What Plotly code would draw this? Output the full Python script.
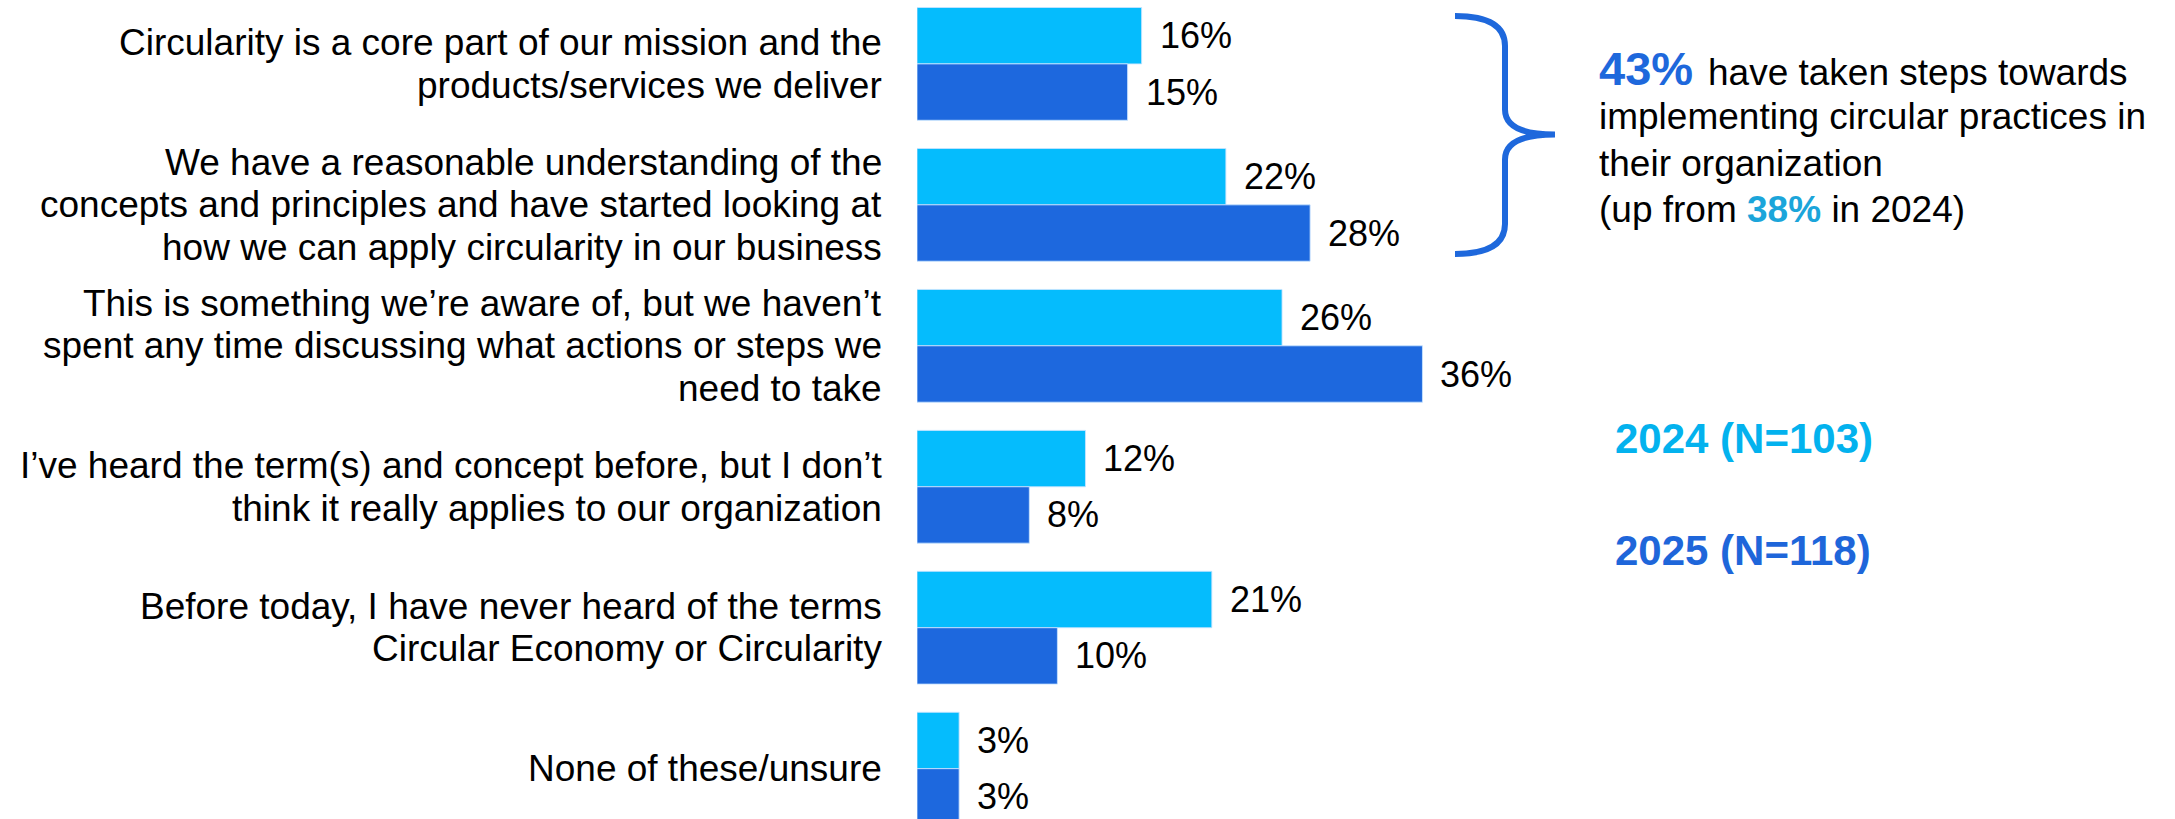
import plotly.graph_objects as go

# Survey answers (top to bottom), line breaks as drawn
categories = [
    "Circularity is a core part of our mission and the<br>products/services we deliver",
    "We have a reasonable understanding of the<br>concepts and principles and have started looking at<br>how we can apply circularity in our business",
    "This is something we’re aware of, but we haven’t<br>spent any time discussing what actions or steps we<br>need to take",
    "I’ve heard the term(s) and concept before, but I don’t<br>think it really applies to our organization",
    "Before today, I have never heard of the terms<br>Circular Economy or Circularity",
    "None of these/unsure",
]
values_2024 = [16, 22, 26, 12, 21, 3]
values_2025 = [15, 28, 36, 8, 10, 3]
series_names = ["2024 (N=103)", "2025 (N=118)"]

COLOR_2024 = "#05BCFD"
COLOR_2025 = "#1D68DE"
FONT = "Liberation Sans, Arial, sans-serif"

W, H = 2175, 819
LEFT = 917
PLOT_W = W - LEFT

fig = go.Figure()
for name, vals, col in [(series_names[0], values_2024, COLOR_2024),
                        (series_names[1], values_2025, COLOR_2025)]:
    fig.add_trace(go.Bar(
        y=categories, x=vals, name=name, orientation="h",
        marker=dict(color=col, line=dict(color="rgba(200,228,255,0.85)", width=1)),
        showlegend=False,
    ))

annotations = []

# value labels just right of each bar
for offset, vals in [(-0.2, values_2024), (0.2, values_2025)]:
    for i, v in enumerate(vals):
        annotations.append(dict(
            x=v, y=i + offset, xref="x", yref="y", text=f"{v}%",
            showarrow=False, xanchor="left", yanchor="middle", xshift=16,
            font=dict(family=FONT, size=36, color="#000000"),
        ))

# right-aligned category labels, one line at a time
LINE_GAP = 42.5
for i, cat in enumerate(categories):
    lines = cat.split("<br>")
    n = len(lines)
    for k, line in enumerate(lines):
        annotations.append(dict(
            x=0, y=i, xref="paper", yref="y", text=line,
            showarrow=False, xanchor="right", yanchor="middle",
            xshift=-33, yshift=((n - 1) / 2 - k) * LINE_GAP,
            font=dict(family=FONT, size=37, color="#000000"),
        ))


def px(x):
    return (x - LEFT) / PLOT_W


def py(y):
    return 1 - y / H


def note(x, y, text, size, color="#000000"):
    annotations.append(dict(
        x=px(x), y=py(y), xref="paper", yref="paper", text=text,
        showarrow=False, xanchor="left", yanchor="middle",
        font=dict(family=FONT, size=size, color=color),
    ))


# callout next to the brace
note(1597, 68.5, "<b>43%</b>", 47, "#1E68DC")
note(1706, 72.0, "have taken steps towards", 37)
note(1597, 117.0, "implementing circular practices in", 37)
note(1597, 163.7, "their organization", 37)
note(1597, 209.7, "(up from <b><span style='color:#1BA5DA'>38%</span></b> in 2024)", 37)

# series key
note(1613, 438.0, f"<b>{series_names[0]}</b>", 42, "#03B2EE")
note(1613, 550.2, f"<b>{series_names[1]}</b>", 42, "#1E66DA")

# curly brace grouping the first two answers
bx0, bx1, bx2 = 1455, 1505, 1555
by_top, by_tip, by_bot = 16, 134.5, 254
brace = (
    f"M {px(bx0)} {py(by_top)} "
    f"Q {px(bx1)} {py(by_top)} {px(bx1)} {py(by_top + 30)} "
    f"L {px(bx1)} {py(by_tip - 25)} "
    f"Q {px(bx1)} {py(by_tip)} {px(bx2)} {py(by_tip)} "
    f"Q {px(bx1)} {py(by_tip)} {px(bx1)} {py(by_tip + 25)} "
    f"L {px(bx1)} {py(by_bot - 30)} "
    f"Q {px(bx1)} {py(by_bot)} {px(bx0)} {py(by_bot)}"
)

fig.update_layout(
    width=W, height=H,
    margin=dict(l=LEFT, r=0, t=0, b=0, pad=0),
    paper_bgcolor="white", plot_bgcolor="white",
    barmode="group", bargap=0.2, bargroupgap=0,
    xaxis=dict(range=[0, PLOT_W / 14.04], visible=False, fixedrange=True),
    yaxis=dict(type="category", categoryorder="array", categoryarray=categories,
               range=[5.357, -0.4533], showticklabels=False, showgrid=False,
               zeroline=False, fixedrange=True),
    annotations=annotations,
    shapes=[dict(type="path", path=brace, xref="paper", yref="paper",
                 line=dict(color="#1E68DC", width=6))],
    font=dict(family=FONT),
)

fig.write_html("out.html")
